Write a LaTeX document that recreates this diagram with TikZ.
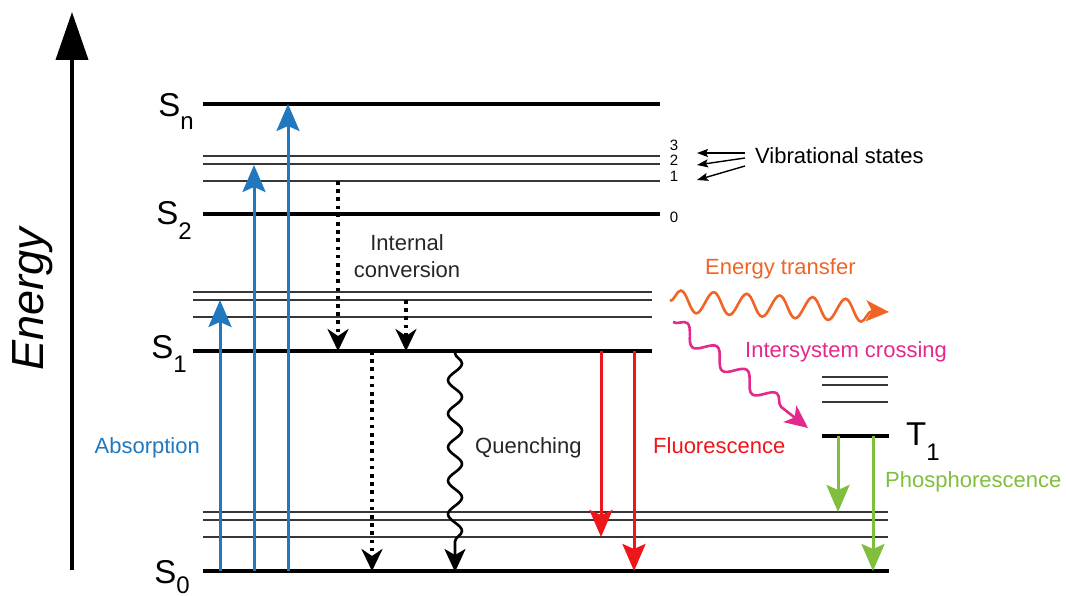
\documentclass[tikz,border=0pt]{standalone}
\usepackage{fontspec}
\setmainfont{Liberation Sans}
\usetikzlibrary{arrows.meta,decorations.pathmorphing}

\definecolor{absblue}{RGB}{33,120,190}
\definecolor{fluored}{RGB}{238,22,26}
\definecolor{phosgreen}{RGB}{128,190,62}
\definecolor{etorange}{RGB}{240,100,40}
\definecolor{iscpink}{RGB}{228,40,140}
\definecolor{levelgray}{RGB}{55,55,55}

\newcommand{\labfont}{\fontsize{22}{27}\selectfont}
\newcommand{\statefont}{\fontsize{33}{36}\selectfont}
\newcommand{\subfont}{\fontsize{24}{24}\selectfont}
\newcommand{\vibfont}{\fontsize{15}{15}\selectfont}

\begin{document}
\begin{tikzpicture}[x=1pt,y=-1pt,
  ground/.style={line width=4.2pt,black},
  vib/.style={line width=1.8pt,levelgray},
  bighead/.style={-{Stealth[length=27pt,width=23pt,inset=5pt]}},
  absarrow/.style={line width=3pt,absblue,bighead},
  fluarrow/.style={line width=3pt,fluored,bighead},
  phosarrow/.style={line width=3pt,phosgreen,bighead},
  icarrow/.style={line width=3.6pt,black,dash pattern=on 3.6pt off 4.6pt,
    -{Stealth[length=22pt,width=21pt,inset=7pt]}},
  wavearrow/.style={line width=2.6pt,decorate,-{Stealth[length=23pt,width=21pt,inset=6pt]}},
  vibpointer/.style={line width=1.4pt,black,-{Stealth[length=11pt,width=8pt,inset=2pt]}},
  lab/.style={inner sep=0pt,font=\labfont},
  vnum/.style={inner sep=0pt,font=\vibfont}]

\useasboundingbox (0,0) rectangle (1066,596);

% energy axis
\coordinate (axbot) at (72,570);
\coordinate (axtop) at (72,12);
\draw[line width=4pt,-{Triangle[length=48pt,width=32pt]}] (axbot) -- (axtop);
\node[inner sep=0pt,rotate=90,font=\fontsize{45}{45}\selectfont\itshape] (energy) at (33,299) {Energy};

% S_n and the vibrational levels of S_2
\draw[ground] (203,104) -- (660,104);
\draw[vib] (203,156) -- (660,156);
\draw[vib] (203,164) -- (660,164);
\draw[vib] (203,181) -- (660,181);
\draw[ground] (203,214) -- (660,214);

% S_1 with its vibrational levels
\draw[vib] (193,292) -- (652,292);
\draw[vib] (193,300) -- (652,300);
\draw[vib] (193,317) -- (652,317);
\draw[ground] (193,351) -- (652,351);

% T_1 with its vibrational levels
\draw[vib] (822,377) -- (888,377);
\draw[vib] (822,385) -- (888,385);
\draw[vib] (822,402) -- (888,402);
\draw[ground] (822,436) -- (889,436);

% S_0 with its vibrational levels
\draw[vib] (203,512) -- (888,512);
\draw[vib] (203,520) -- (888,520);
\draw[vib] (203,537) -- (888,537);
\draw[ground] (203,571) -- (889,571);

% state labels
\node[inner sep=0pt,anchor=base east,font=\statefont] (Sn) at (194,117)
  {S\raisebox{-13pt}{\subfont n}};
\node[inner sep=0pt,anchor=base east,font=\statefont] (S2) at (192,225)
  {S\raisebox{-15pt}{\subfont 2}};
\node[inner sep=0pt,anchor=base east,font=\statefont] (S1) at (187,358)
  {S\raisebox{-14pt}{\subfont 1}};
\node[inner sep=0pt,anchor=base east,font=\statefont] (S0) at (190,583)
  {S\raisebox{-10pt}{\subfont 0}};
\node[inner sep=0pt,anchor=base west,font=\statefont] (T1) at (906,445)
  {T\raisebox{-15pt}{\subfont 1}};

% vibrational quantum numbers
\node[vnum] (v3) at (674,145) {3};
\node[vnum] (v2) at (674,160) {2};
\node[vnum] (v1) at (674,176) {1};
\node[vnum] (v0) at (674,217) {0};
\node[lab,anchor=base west] (vibst) at (755,164) {Vibrational states};
\coordinate (p3) at (745,153);
\coordinate (p2) at (745,158);
\coordinate (p1) at (745,166);
\draw[vibpointer] (p3) -- (697,153);
\draw[vibpointer] (p2) -- (697,165);
\draw[vibpointer] (p1) -- (697,180);

% absorption
\coordinate (a1s) at (220,571); \coordinate (a1e) at (220,300);
\coordinate (a2s) at (254,571); \coordinate (a2e) at (254,165);
\coordinate (a3s) at (288,571); \coordinate (a3e) at (288,104);
\draw[absarrow] (a1s) -- (a1e);
\draw[absarrow] (a2s) -- (a2e);
\draw[absarrow] (a3s) -- (a3e);
\node[lab,anchor=base east,text=absblue] (absorption) at (200,453) {Absorption};

% internal conversion
\coordinate (ic1s) at (338,181); \coordinate (ic1e) at (338,351);
\coordinate (ic2s) at (406,300); \coordinate (ic2e) at (406,351);
\coordinate (ic3s) at (372,351); \coordinate (ic3e) at (372,571);
\draw[icarrow] (ic1s) -- (ic1e);
\draw[icarrow] (ic2s) -- (ic2e);
\draw[icarrow] (ic3s) -- (ic3e);
\node[lab,align=center,text=black!85] (icl) at (407,256) {Internal\\conversion};

% quenching
\coordinate (qs) at (455,351); \coordinate (qe) at (455,572);
\draw[wavearrow,black,decoration={snake,amplitude=7pt,segment length=33.5pt,pre length=2pt,post length=18pt}] (qs) -- (qe);
\node[lab,anchor=base west,text=black!85] (quench) at (475,453) {Quenching};

% fluorescence
\coordinate (f1s) at (601,351); \coordinate (f1e) at (601,537);
\coordinate (f2s) at (634,351); \coordinate (f2e) at (634,571);
\draw[fluarrow] (f1s) -- (f1e);
\draw[fluarrow] (f2s) -- (f2e);
\node[lab,anchor=base west,text=fluored] (fluor) at (653,453) {Fluorescence};

% phosphorescence
\coordinate (g1s) at (838,436); \coordinate (g1e) at (838,512);
\coordinate (g2s) at (873,436); \coordinate (g2e) at (873,571);
\draw[phosarrow] (g1s) -- (g1e);
\draw[phosarrow] (g2s) -- (g2e);
\node[lab,anchor=base west,text=phosgreen] (phos) at (885,487) {Phosphorescence};

% energy transfer
\coordinate (ets) at (670,301); \coordinate (ete) at (889,312);
\draw[wavearrow,etorange,decoration={snake,amplitude=11pt,segment length=33pt,post length=16pt}] (ets) -- (ete);
\node[lab,anchor=base west,text=etorange] (etl) at (705,275) {Energy transfer};

% intersystem crossing
\coordinate (iscs) at (673,322); \coordinate (isce) at (808,428);
\draw[wavearrow,iscpink,decoration={snake,amplitude=8pt,segment length=38pt,post length=20pt}] (iscs) -- (isce);
\node[lab,anchor=base west,text=iscpink] (iscl) at (745,357) {Intersystem crossing};

\end{tikzpicture}
\end{document}
